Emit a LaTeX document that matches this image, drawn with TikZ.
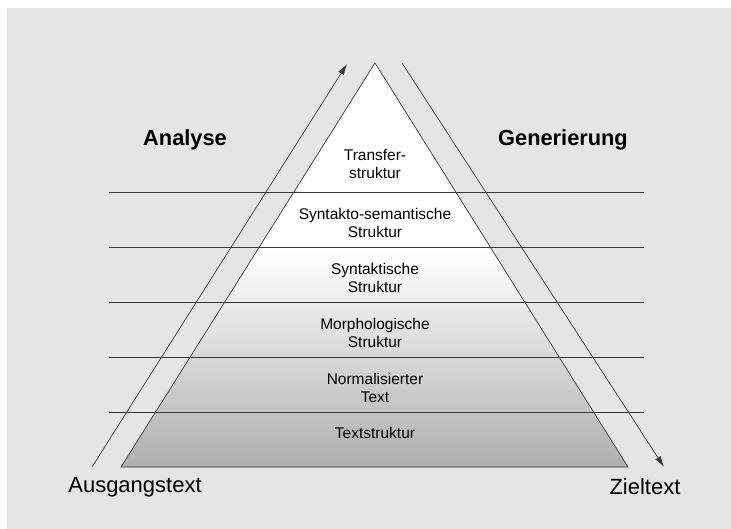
\documentclass[tikz,border=0pt]{standalone}
\usepackage{fontspec}
\setmainfont{Liberation Sans}
\usetikzlibrary{arrows.meta}

\definecolor{bggray}{HTML}{E5E5E5}
\definecolor{linegray}{HTML}{383838}

\begin{document}
\begin{tikzpicture}[x=1pt, y=-1pt,
	layer/.style={font=\fontsize{15.5}{18}\selectfont, align=center, inner sep=0pt},
	endtext/.style={font=\fontsize{22}{24}\selectfont, inner sep=0pt},
	phase/.style={font=\bfseries\fontsize{21.8}{24}\selectfont, inner sep=0pt},
	flow/.style={draw=linegray, line width=0.7pt, -{Latex[length=11pt, width=6.5pt]}}]
	% Parameters
	\def\apexx{375}
	\def\apexy{63}
	\def\basey{467}
	\def\lineleft{109}
	\def\lineright{644}

	% Background
	\useasboundingbox (0,0) rectangle (731,529);
	\fill[bggray] (7,8) rectangle (731,529);

	% Pyramid corners
	\coordinate (apex) at (\apexx, \apexy);
	\coordinate (baseL) at (121, \basey);
	\coordinate (baseR) at (628, \basey);

	% Fill: white on top, grey towards the base
	\begin{scope}
		\clip (apex) -- (baseL) -- (baseR) -- cycle;
		\fill[white] (100,60) rectangle (650,250);
		\shade[top color=white, bottom color=gray!63] (100,250) rectangle (650,\basey);
	\end{scope}
	\draw[linegray, line width=0.7pt] (apex) -- (baseL) -- (baseR) -- cycle;

	% Level lines
	\foreach \i/\y in {1/192, 2/247, 3/302, 4/357, 5/412} {
		\coordinate (L\i) at (\lineleft, \y);
		\coordinate (R\i) at (\lineright, \y);
		\draw[linegray, line width=0.7pt] (L\i) -- (R\i);
	}

	% Levels
	\node[layer] (transfer) at (\apexx, 164) {Transfer-\\struktur};
	\node[layer] (synsem) at (\apexx, 223) {Syntakto-semantische\\Struktur};
	\node[layer] (syntax) at (\apexx, 278) {Syntaktische\\Struktur};
	\node[layer] (morph) at (\apexx, 333) {Morphologische\\Struktur};
	\node[layer] (norm) at (\apexx, 388) {Normalisierter\\Text};
	\node[layer] (textstr) at (\apexx, 433) {Textstruktur};

	% Analysis up, generation down
	\coordinate (ana0) at (92, \basey);
	\coordinate (ana1) at (347, 64);
	\coordinate (gen0) at (402, \apexy);
	\coordinate (gen1) at (664, \basey);
	\draw[flow] (ana0) -- (ana1);
	\draw[flow] (gen0) -- (gen1);

	% Labels
	\node[phase] (analyse) at (185, 140) {Analyse};
	\node[phase] (generierung) at (563, 140) {Generierung};
	\node[endtext] (source) at (135, 487) {Ausgangstext};
	\node[endtext] (target) at (645, 487) {Zieltext};
\end{tikzpicture}
\end{document}
